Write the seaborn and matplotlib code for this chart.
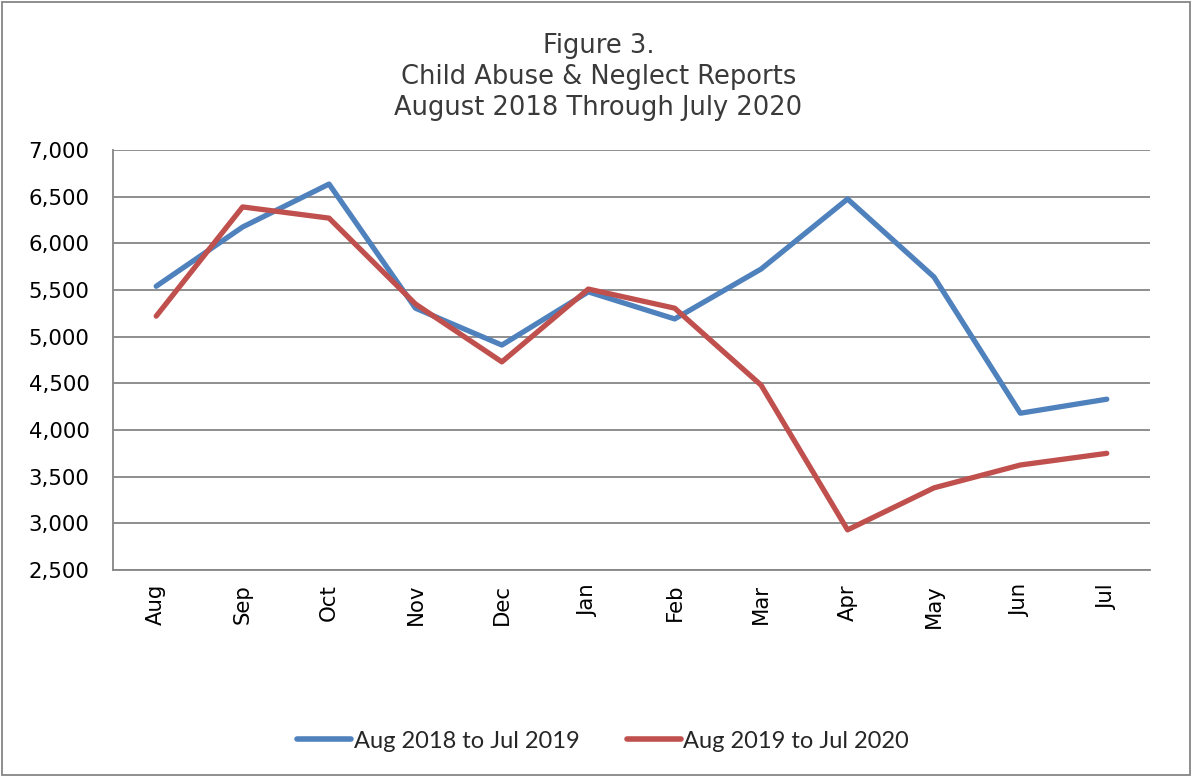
import matplotlib
matplotlib.use("Agg")
import matplotlib.pyplot as plt
import seaborn as sns
import pandas as pd
from matplotlib.patches import Rectangle
from matplotlib.ticker import FuncFormatter

months = ['Aug', 'Sep', 'Oct', 'Nov', 'Dec', 'Jan', 'Feb', 'Mar', 'Apr', 'May', 'Jun', 'Jul']
reports_2018_2019 = [5540, 6175, 6635, 5305, 4910, 5480, 5190, 5725, 6475, 5640, 4180, 4330]
reports_2019_2020 = [5220, 6390, 6270, 5350, 4730, 5510, 5305, 4480, 2930, 3380, 3625, 3750]
series_names = ['Aug 2018 to Jul 2019', 'Aug 2019 to Jul 2020']

df = pd.DataFrame({
    'month': months * 2,
    'reports': reports_2018_2019 + reports_2019_2020,
    'period': [series_names[0]] * 12 + [series_names[1]] * 12,
})

sns.set_style("white")
plt.rcParams['font.family'] = ['DejaVu Sans']

fig = plt.figure(figsize=(11.92, 7.77), dpi=100)
ax = fig.add_axes([113 / 1192, 1 - 570 / 777, 1037 / 1192, 420 / 777])

sns.lineplot(data=df, x='month', y='reports', hue='period', sort=False,
             palette=['#4F81BD', '#C0504D'], linewidth=3.8, ax=ax, legend=False)

ax.set_xlim(-0.5, 11.5)
ax.set_ylim(2500, 7000)
ax.set_yticks(range(2500, 7001, 500))
ax.yaxis.set_major_formatter(FuncFormatter(lambda v, p: f'{int(v):,}'))
ax.grid(axis='y', color='#868686', linewidth=1.3)
ax.set_axisbelow(True)
for side in ['top', 'right']:
    ax.spines[side].set_visible(False)
for side in ['left', 'bottom']:
    ax.spines[side].set_color('#868686')
    ax.spines[side].set_linewidth(1.3)
ax.tick_params(axis='both', length=0, labelsize=15.3, colors='black')
ax.tick_params(axis='y', pad=17)
ax.tick_params(axis='x', pad=10)
plt.setp(ax.get_xticklabels(), rotation=90, va='top')
ax.set_xlabel('')
ax.set_ylabel('')

fig.text(0.502, 1 - 77 / 777, 'Figure 3.\nChild Abuse & Neglect Reports\nAugust 2018 Through July 2020',
         ha='center', va='center', fontsize=18.5, color='#3a3a3a', family=['DejaVu Sans'],
         linespacing=1.26)

# legend
handles = [plt.Line2D([], [], color=c, linewidth=4, solid_capstyle='round') for c in ['#4F81BD', '#C0504D']]
fig.legend(handles, series_names, loc='center', bbox_to_anchor=(0.506, 1 - 741 / 777), ncol=2,
           frameon=False, prop={'family': ['Lato', 'DejaVu Sans'], 'size': 17},
           handlelength=2.3, handletextpad=0.1, columnspacing=2.0)

# outer frame
fig.patches.append(Rectangle((0.002, 0.002), 0.996, 0.996, transform=fig.transFigure,
                             fill=False, edgecolor='#868686', linewidth=1.3))

fig.savefig('out.png', dpi=100)
